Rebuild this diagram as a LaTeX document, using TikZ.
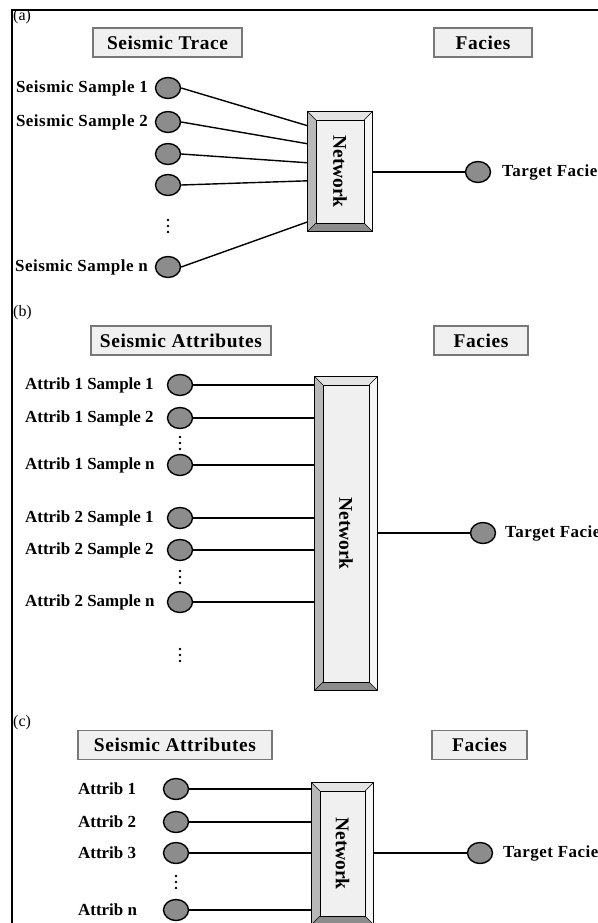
\documentclass[tikz,border=0pt]{standalone}
\usepackage{fontspec}
\setmainfont{Liberation Serif}
\usetikzlibrary{calc,shapes.geometric}
\definecolor{circfill}{RGB}{140,140,140}
\definecolor{boxfill}{RGB}{240,240,240}
\definecolor{boxline}{RGB}{120,120,120}
\definecolor{bvleft}{RGB}{184,184,184}
\definecolor{bvbottom}{RGB}{140,140,140}
\definecolor{bvtop}{RGB}{228,228,228}
\definecolor{bvright}{RGB}{246,246,246}
\newcommand\netbevel[2]{%
  \fill[bvtop] (#1.north west) -- (#1.north east) -- ($(#1.north east)+(-#2,#2)$) -- ($(#1.north west)+(#2,#2)$) -- cycle;
  \fill[bvleft] (#1.north west) -- ($(#1.north west)+(#2,#2)$) -- ($(#1.south west)+(#2,-#2)$) -- (#1.south west) -- cycle;
  \fill[bvbottom] (#1.south west) -- ($(#1.south west)+(#2,-#2)$) -- ($(#1.south east)+(-#2,-#2)$) -- (#1.south east) -- cycle;
  \fill[bvright] (#1.north east) -- (#1.south east) -- ($(#1.south east)+(-#2,-#2)$) -- ($(#1.north east)+(-#2,#2)$) -- cycle;
  \draw[line width=0.8bp] (#1.north west) rectangle (#1.south east);
  \draw[line width=0.6bp] ($(#1.north west)+(#2,#2)$) rectangle ($(#1.south east)+(-#2,-#2)$);
  \draw[line width=0.6bp] (#1.north west) -- ++(#2,#2) (#1.north east) -- ++(-#2,#2)
     (#1.south west) -- ++(#2,-#2) (#1.south east) -- ++(-#2,-#2);
}
\newcommand\dotcol[1]{%
  \fill ($(#1)+(0,-6)$) circle (1.3bp) (#1) circle (1.3bp) ($(#1)+(0,6)$) circle (1.3bp);
}
\begin{document}
\begin{tikzpicture}[x=1bp,y=-1bp,
  circ/.style={ellipse,draw,line width=1.4bp,fill=circfill,minimum width=25bp,minimum height=21bp,inner sep=0pt},
  hdr/.style={draw=boxline,fill=boxfill,line width=1.1bp,font=\bfseries\fontsize{19.5}{20}\selectfont\addfontfeatures{LetterSpace=3},minimum height=29bp,inner sep=0pt},
  lbl/.style={font=\bfseries\fontsize{17}{18}\selectfont,inner sep=0pt},
  lblw/.style={font=\bfseries\fontsize{17}{18}\selectfont\addfontfeatures{LetterSpace=3},inner sep=0pt},
  tag/.style={font=\fontsize{16}{17}\selectfont,inner sep=0pt,anchor=west},
  net/.style={rectangle,fill=boxfill,inner sep=0pt},
  nettxt/.style={font=\bfseries\fontsize{19.5}{20}\selectfont,rotate=-90,inner sep=0pt},
  conn/.style={line width=1.4bp}]
\useasboundingbox (0,0) rectangle (598,923);
\draw[line width=2bp] (12,924) -- (12,10) -- (598,10);

% ---------------- (a)
\node[tag] (ta) at (13,17) {(a)};
\node[hdr,minimum width=149bp] (ha) at (167.5,42.5) {Seismic Trace};
\node[hdr,minimum width=98bp] (fa) at (483,42.5) {Facies};
\node[circ] (a1) at (168,88) {};
\node[circ] (a2) at (168,122) {};
\node[circ] (a3) at (168,154) {};
\node[circ] (a4) at (168,185) {};
\coordinate (ad) at (168,226);
\dotcol{ad}
\node[circ] (an) at (168,267) {};
\node[lblw,anchor=east] (la1) at (148,88) {Seismic Sample 1};
\node[lblw,anchor=east] (la2) at (148,122) {Seismic Sample 2};
\node[lblw,anchor=east] (lan) at (148,267) {Seismic Sample n};
\node[net,minimum width=64bp,minimum height=119bp] (na) at (340,171.5) {};
\netbevel{na}{8}
\node[nettxt] (nat) at (na.center) {Network};
\draw[conn] (a1.east) -- ($(na.north west)+(0,14)$);
\draw[conn] (a2.east) -- ($(na.north west)+(0,32)$);
\draw[conn] (a3.east) -- ($(na.north west)+(0,51)$);
\draw[conn] (a4.east) -- ($(na.north west)+(0,69)$);
\draw[conn] (an.east) -- ($(na.north west)+(0,110)$);
\node[circ] (tga) at (478,172) {};
\draw[conn] (na.east |- tga) -- (tga.west);
\node[lblw,anchor=west] (ltga) at (502,172) {Target Facies};

% ---------------- (b)
\node[tag] (tb) at (13,313) {(b)};
\node[hdr,minimum width=180bp] (hb) at (181,340.5) {Seismic Attributes};
\node[hdr,minimum width=94bp] (fb) at (481,340.5) {Facies};
\node[circ] (b1) at (180,385) {};
\node[circ] (b2) at (180,418) {};
\coordinate (bd1) at (180,443);
\dotcol{bd1}
\node[circ] (b3) at (180,465) {};
\node[circ] (b4) at (180,518) {};
\node[circ] (b5) at (180,550) {};
\coordinate (bd2) at (180,577);
\dotcol{bd2}
\node[circ] (b6) at (180,602) {};
\coordinate (bd3) at (180,655);
\dotcol{bd3}
\node[lbl,anchor=west] (lb1) at (25,385) {Attrib 1 Sample 1};
\node[lbl,anchor=west] (lb2) at (25,418) {Attrib 1 Sample 2};
\node[lbl,anchor=west] (lb3) at (25,465) {Attrib 1 Sample n};
\node[lbl,anchor=west] (lb4) at (25,518) {Attrib 2 Sample 1};
\node[lbl,anchor=west] (lb5) at (25,550) {Attrib 2 Sample 2};
\node[lbl,anchor=west] (lb6) at (25,602) {Attrib 2 Sample n};
\node[net,minimum width=62bp,minimum height=313bp] (nb) at (346,533.5) {};
\netbevel{nb}{8}
\node[nettxt] (nbt) at (nb.center) {Network};
\foreach \i in {1,...,6}{\draw[conn] (b\i.east) -- (b\i.east -| nb.west);}
\node[circ] (tgb) at (483,533) {};
\draw[conn] (nb.east |- tgb) -- (tgb.west);
\node[lblw,anchor=west] (ltgb) at (505,533) {Target Facies};

% ---------------- (c)
\node[tag] (tc) at (13,723) {(c)};
\node[hdr,minimum width=194bp] (hc) at (175,745) {Seismic Attributes};
\node[hdr,minimum width=95bp] (fc) at (479.5,745) {Facies};
\node[circ] (c1) at (176,789) {};
\node[circ] (c2) at (176,822) {};
\node[circ] (c3) at (176,853) {};
\coordinate (cd) at (176,882);
\dotcol{cd}
\node[circ] (c4) at (176,910) {};
\node[lbl,anchor=west] (lc1) at (78,789) {Attrib 1};
\node[lbl,anchor=west] (lc2) at (78,822) {Attrib 2};
\node[lbl,anchor=west] (lc3) at (78,853) {Attrib 3};
\node[lbl,anchor=west] (lc4) at (78,910) {Attrib n};
\node[net,minimum width=61bp,minimum height=141bp] (nc) at (342.5,853.5) {};
\netbevel{nc}{8}
\node[nettxt] (nct) at (nc.center) {Network};
\foreach \i in {1,...,4}{\draw[conn] (c\i.east) -- (c\i.east -| nc.west);}
\node[circ] (tgc) at (480,853) {};
\draw[conn] (nc.east |- tgc) -- (tgc.west);
\node[lblw,anchor=west] (ltgc) at (503,853) {Target Facies};
\end{tikzpicture}
\end{document}
